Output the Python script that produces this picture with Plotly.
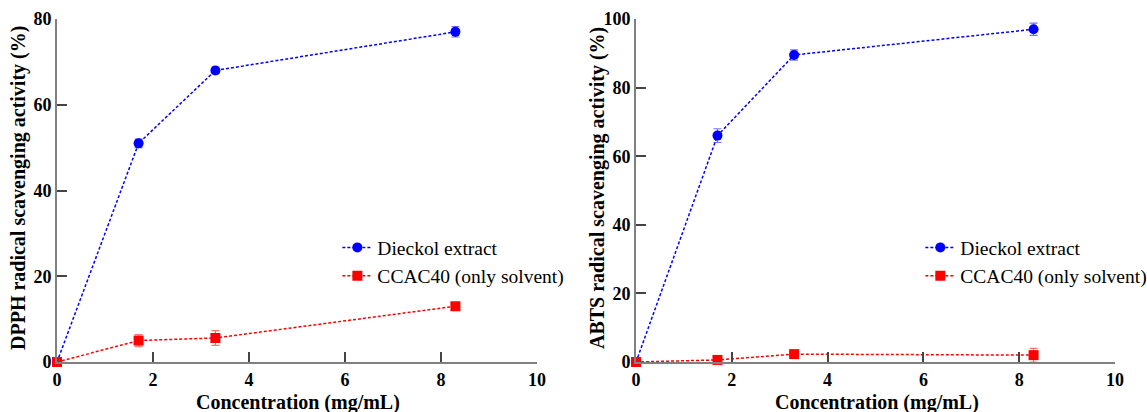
import plotly.graph_objects as go

conc = [0, 1.7, 3.3, 8.3]
dpph_dieckol = [0, 51, 68, 77]
dpph_dieckol_err = [0, 1.0, 0.8, 1.2]
dpph_ccac = [0, 5.0, 5.6, 13]
dpph_ccac_err = [0, 1.4, 1.7, 0.5]
abts_dieckol = [0, 66, 89.5, 97]
abts_dieckol_err = [0, 2.0, 1.5, 1.8]
abts_ccac = [0, 0.6, 2.3, 2.0]
abts_ccac_err = [0, 1.2, 0.5, 2.0]
x_ticks = [0, 2, 4, 6, 8, 10]
names = ["Dieckol extract", "CCAC40 (only solvent)"]
x_title = "Concentration (mg/mL)"
y_titles = ["DPPH radical scavenging activity (%)", "ABTS radical scavenging activity (%)"]

FONT = "Times New Roman, Liberation Serif, serif"
BLUE = "#0000ff"
RED = "#ff0000"

fig = go.Figure()

def add(x, y, err, name, color, symbol, xa, ya, legend):
    ecol = "rgba(0,0,255,0.55)" if color == BLUE else "rgba(255,0,0,0.55)"
    fig.add_trace(go.Scatter(
        x=x, y=y, name=name, mode="lines+markers",
        line=dict(color=color, width=1.5, dash="3px,2px"),
        marker=dict(color=color, symbol=symbol, size=10),
        error_y=dict(type="data", array=err, visible=True, color=ecol, thickness=1.2, width=4),
        xaxis=xa, yaxis=ya, legend=legend, cliponaxis=False,
    ))

add(conc, dpph_dieckol, dpph_dieckol_err, names[0], BLUE, "circle", "x", "y", "legend")
add(conc, dpph_ccac, dpph_ccac_err, names[1], RED, "square", "x", "y", "legend")
add(conc, abts_dieckol, abts_dieckol_err, names[0], BLUE, "circle", "x2", "y2", "legend2")
add(conc, abts_ccac, abts_ccac_err, names[1], RED, "square", "x2", "y2", "legend2")

axis_common = dict(
    showline=True, linecolor="#808080", linewidth=2, ticks="inside", ticklen=10,
    tickcolor="#444444", tickwidth=1.5, showgrid=False, zeroline=False, automargin=False,
    tickfont=dict(family=FONT, size=18, color="black", weight="bold"),
)

title_font = dict(family=FONT, size=20, color="black", weight="bold")
legend_font = dict(family=FONT, size=19.5, color="black")

fig.update_layout(
    width=1147, height=412,
    font=dict(family=FONT, color="black"),
    margin=dict(l=57, r=32, t=19, b=50, autoexpand=False),
    plot_bgcolor="white", paper_bgcolor="white",
    xaxis=dict(domain=[0, 0.4537], range=[0, 10], tickvals=x_ticks, anchor="y", **axis_common),
    yaxis=dict(domain=[0, 1], range=[0, 80], tickvals=[0, 20, 40, 60, 80], anchor="x", **axis_common),
    xaxis2=dict(domain=[0.5473, 1], range=[0, 10], tickvals=x_ticks, anchor="y2", **axis_common),
    yaxis2=dict(domain=[0, 1], range=[0, 100], tickvals=[0, 20, 40, 60, 80, 100], anchor="x2", **axis_common),
    legend=dict(x=0.265, y=0.39, xanchor="left", yanchor="top", bgcolor="rgba(0,0,0,0)",
                font=legend_font, itemwidth=30),
    legend2=dict(x=0.816, y=0.39, xanchor="left", yanchor="top", bgcolor="rgba(0,0,0,0)",
                 font=legend_font, itemwidth=30),
)

# axis titles
for xc in [298, 877]:
    fig.add_annotation(text=x_title, xref="paper", yref="paper", x=(xc - 57) / 1058,
                       y=-(402 - 362) / 343, xanchor="center", yanchor="middle",
                       showarrow=False, font=title_font)
for xp, t in zip([18, 597], y_titles):
    fig.add_annotation(text=t, xref="paper", yref="paper", x=(xp - 57) / 1058,
                       y=(362 - 188) / 343, xanchor="center", yanchor="middle", textangle=-90,
                       showarrow=False, font=title_font)

fig.write_html("out.html")
